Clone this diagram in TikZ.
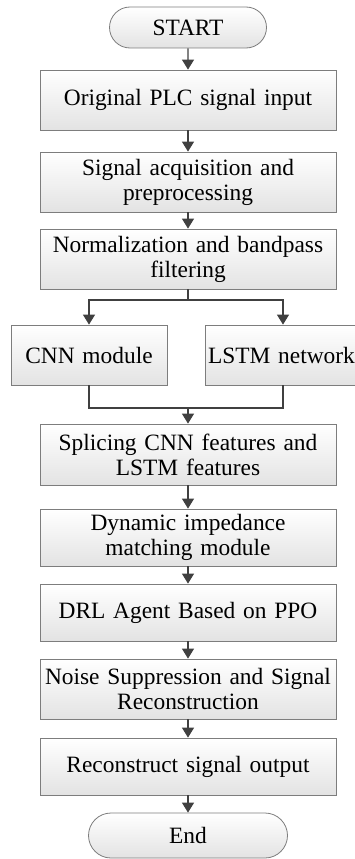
\documentclass[tikz,border=0pt]{standalone}
\usepackage{fontspec}
\setmainfont{Liberation Serif}
\usetikzlibrary{arrows.meta}
\usetikzlibrary{shapes.misc}
\definecolor{boxline}{RGB}{125,125,125}
\definecolor{flowgray}{RGB}{64,64,64}
\tikzset{
	procbox/.style={draw=boxline, line width=0.8pt, top color=white, bottom color=black!11,
		minimum width=296pt, text width=290pt, align=center, inner sep=0pt,
		font=\fontsize{23.4}{25}\selectfont},
	halfbox/.style={procbox, minimum width=156pt, text width=156pt},
	termbox/.style={draw=boxline, line width=0.8pt, top color=white, bottom color=black!11,
		rounded rectangle, inner sep=0pt, font=\fontsize{23.4}{25}\selectfont},
	flow/.style={draw=flowgray, line width=1.3pt, -{Triangle[length=10pt,width=12pt]}},
	link/.style={draw=flowgray, line width=1.3pt}
}

\begin{document}
\begin{tikzpicture}[x=1pt, y=-1pt]
					\useasboundingbox (0,0) rectangle (354,859);

					\node[termbox, minimum width=157pt, minimum height=41pt] (start) at (188,27.5) {START};
					\node[procbox, minimum height=60pt] (orig) at (188,100) {Original PLC signal input};
					\node[procbox, minimum height=60pt] (acq) at (188,182) {Signal acquisition and\\ preprocessing};
					\node[procbox, minimum height=60pt] (norm) at (188,259) {Normalization and bandpass\\ filtering};
					\node[halfbox, minimum height=60pt] (cnn) at (89,355) {CNN module};
					\node[halfbox, minimum height=60pt, text width=150pt, align=left] (lstm) at (283,355) {LSTM network};
					\node[procbox, minimum height=61pt] (splice) at (188,454.5) {Splicing CNN features and\\ LSTM features};
					\node[procbox, minimum height=57pt] (imped) at (188,537.5) {Dynamic impedance\\ matching module};
					\node[procbox, minimum height=57pt] (drl) at (188,612.5) {DRL Agent Based on PPO};
					\node[procbox, minimum height=60pt] (noise) at (188,689) {Noise Suppression and Signal\\ Reconstruction};
					\node[procbox, minimum height=57pt] (recon) at (188,766.5) {Reconstruct signal output};
					\node[termbox, minimum width=199pt, minimum height=45pt] (stop) at (188,835.5) {End};

					\coordinate (split) at (188,300);
					\coordinate (merge) at (188,408);

					\draw[flow] (start) -- (orig);
					\draw[flow] (orig) -- (acq);
					\draw[flow] (acq) -- (norm);
					\draw[link] (norm) -- (split);
					\draw[flow] (split) -| (cnn);
					\draw[flow] (split) -| (lstm);
					\draw[link] (cnn) |- (merge);
					\draw[link] (lstm) |- (merge);
					\draw[flow] (merge) -- (splice);
					\draw[flow] (splice) -- (imped);
					\draw[flow] (imped) -- (drl);
					\draw[flow] (drl) -- (noise);
					\draw[flow] (noise) -- (recon);
					\draw[flow] (recon) -- (stop);

				\end{tikzpicture}
\end{document}
